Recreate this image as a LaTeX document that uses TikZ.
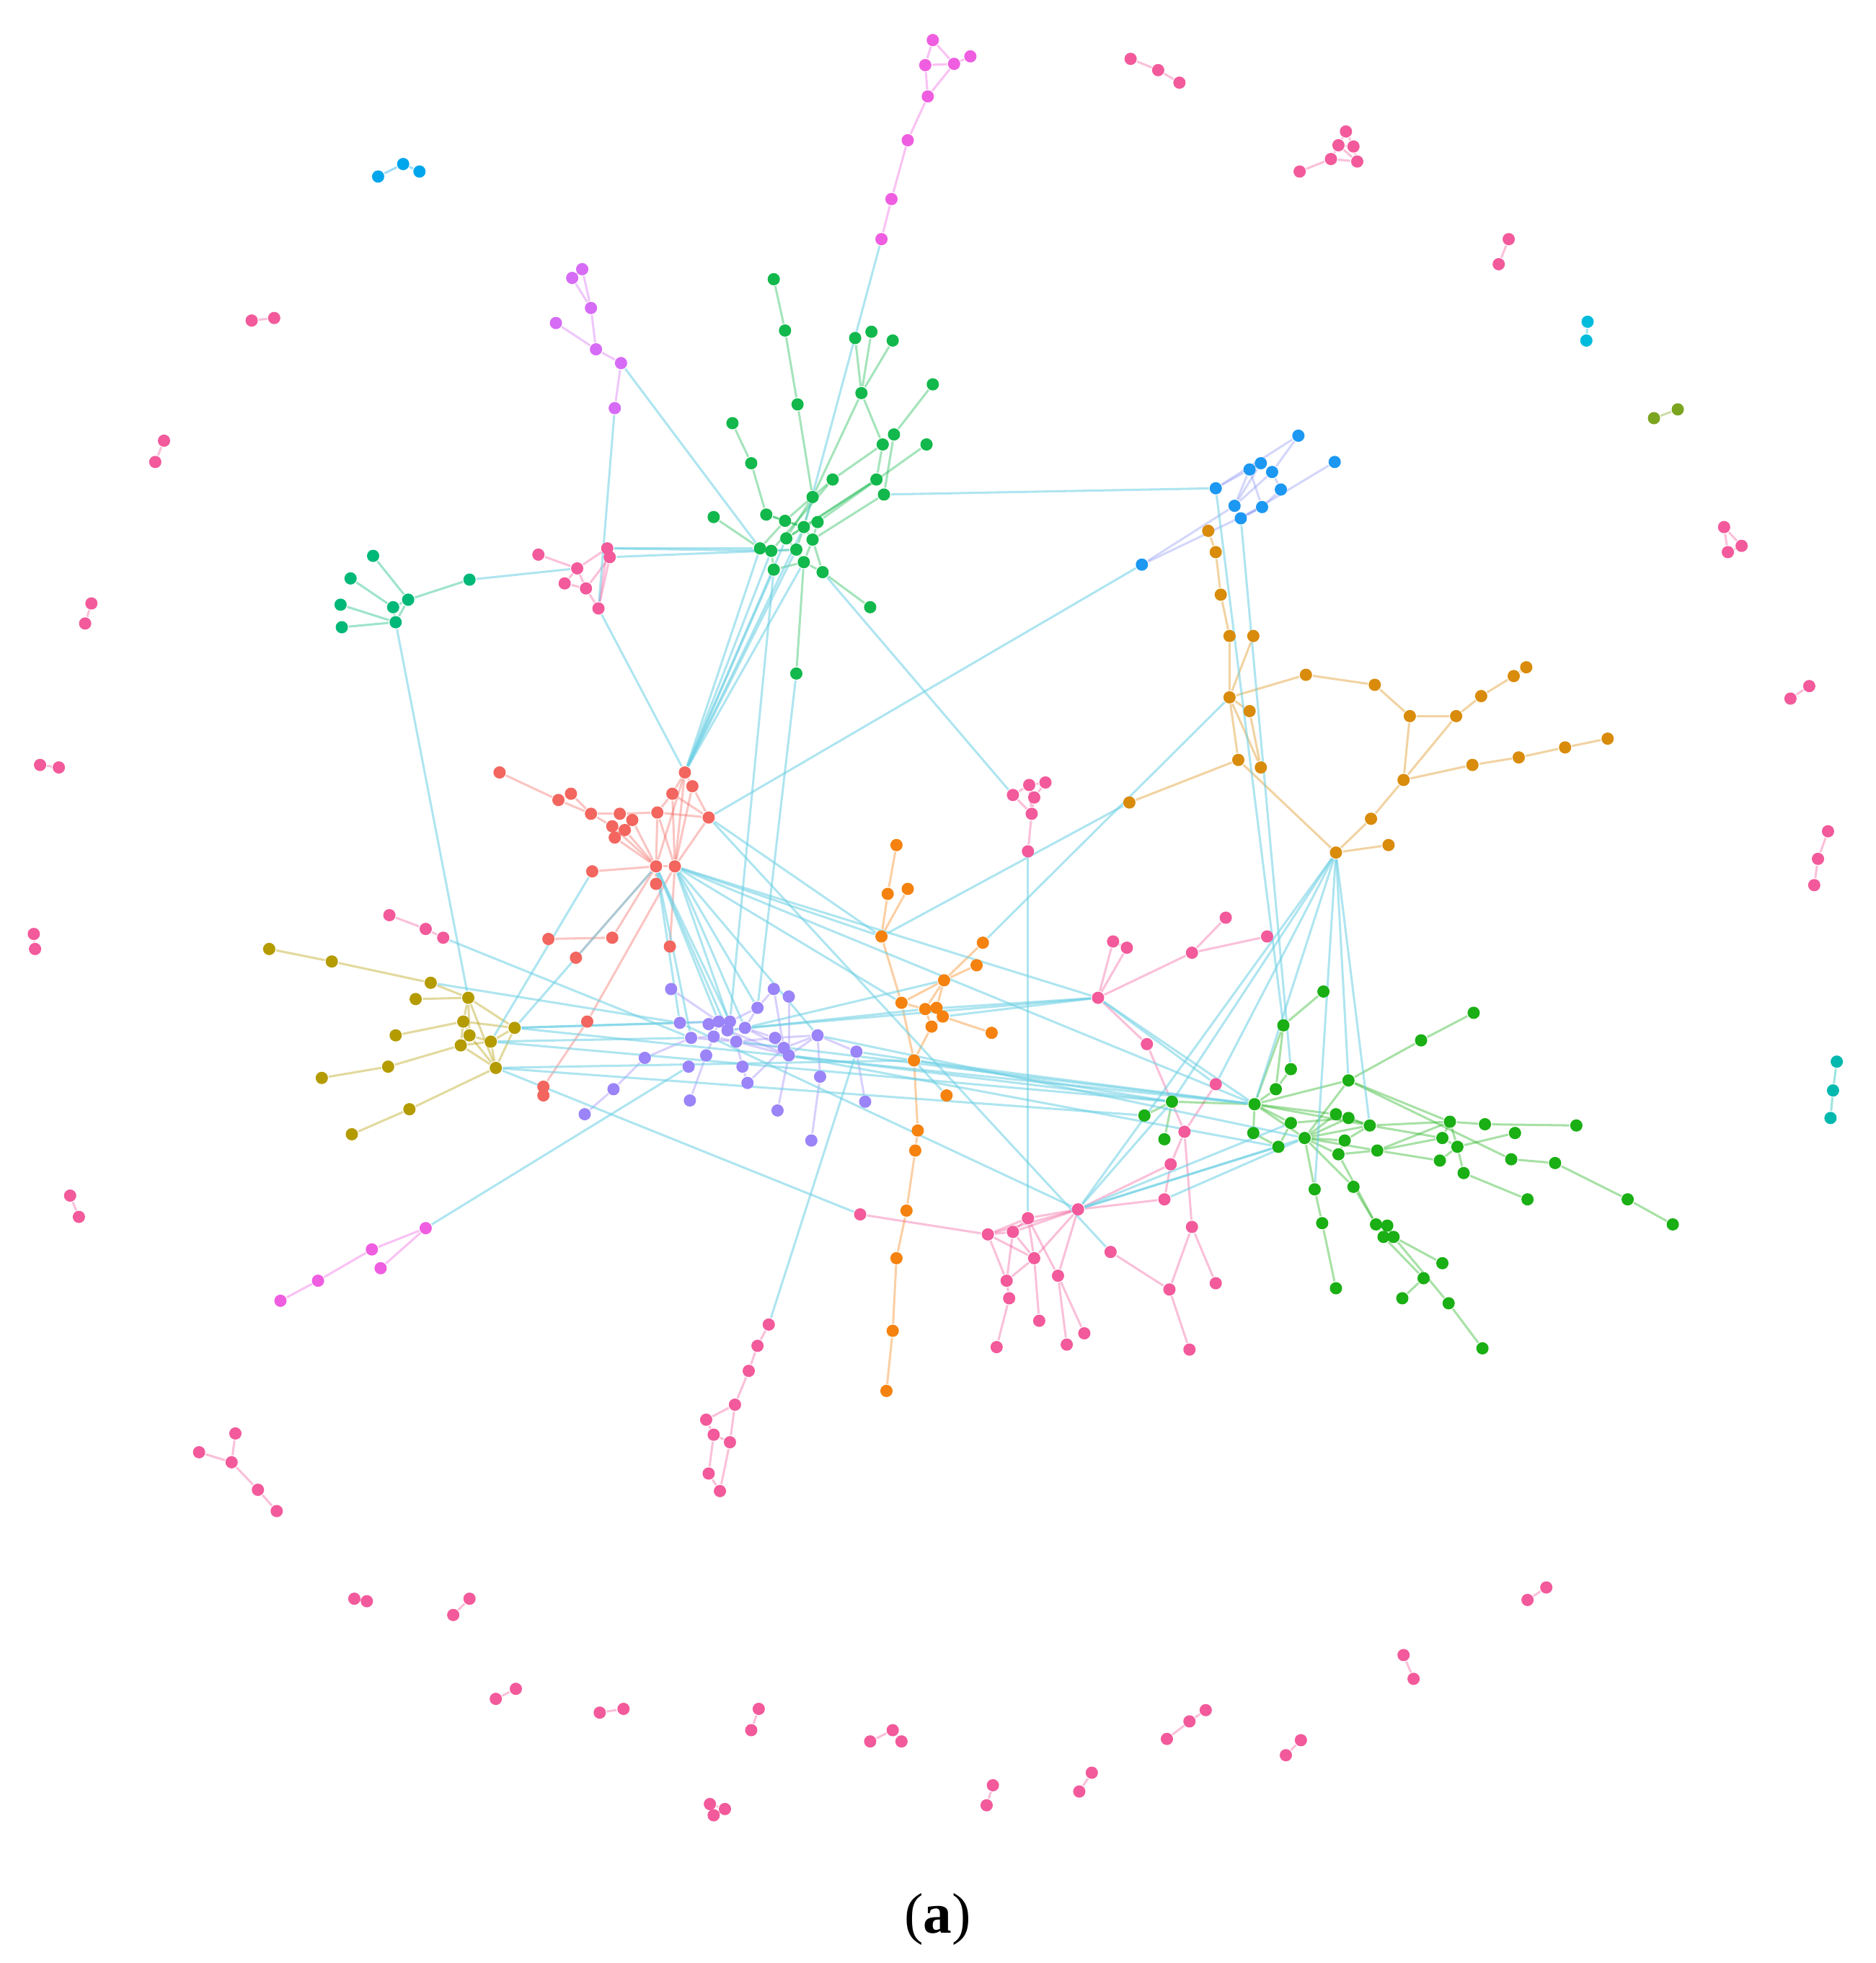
\documentclass[tikz,border=0pt]{standalone}
\usepackage{fontspec}
\setmainfont{Liberation Serif}
\usetikzlibrary{backgrounds}
\definecolor{cpk}{HTML}{F25A9B}
\definecolor{cmg}{HTML}{EF5EE0}
\definecolor{cvi}{HTML}{D66BF5}
\definecolor{cg}{HTML}{12B84C}
\definecolor{cgb}{HTML}{1AAF14}
\definecolor{ctg}{HTML}{00B877}
\definecolor{cr}{HTML}{F2665F}
\definecolor{col}{HTML}{B39B00}
\definecolor{cpu}{HTML}{9A84F8}
\definecolor{cor}{HTML}{F5820F}
\definecolor{cau}{HTML}{D98B0B}
\definecolor{cbl}{HTML}{1C98F2}
\definecolor{cbe}{HTML}{8F96F2}
\definecolor{cblt}{HTML}{00A6EC}
\definecolor{ccy}{HTML}{00BCDC}
\definecolor{cte}{HTML}{00B8AE}
\definecolor{cyg}{HTML}{7BA51F}
\definecolor{cyl}{HTML}{6CCFE3}
\begin{document}
\begin{tikzpicture}[x=0.01cm,y=-0.01cm,
  dot/.style={circle,inner sep=0pt,minimum size=0.098cm,draw=none},
  le/.style={draw=#1,draw opacity=0.38,line width=0.5pt},
  ce/.style={draw=cyl,draw opacity=0.55,line width=0.5pt}]
\useasboundingbox (0,0) rectangle (1498,1568);

% ---------------- nodes ----------------
% isolated pink components
\foreach \n/\x/\y in {ia1/903/47,ia2/925/56,ia3/942/66,
 ib1/1038/137,ib2/1063/127,ib3/1069/116,ib4/1075/105,ib5/1081/117,ib6/1084/129,
 ic1/1205/191,ic2/1197/211,id1/1377/421,id2/1380/441,id3/1391/436,
 ie1/1445/548,ie2/1430/558,if1/1460/664,if2/1452/686,if3/1449/707,
 ih1/1235/1268,ih2/1220/1278,ii1/1121/1322,ii2/1129/1341,ij1/1039/1390,ij2/1027/1402,
 im1/963/1366,im2/950/1375,im3/932/1389,in1/872/1416,in2/862/1431,
 io1/793/1426,io2/788/1442,ip1/695/1391,ip2/713/1382,ip3/720/1391,
 iq1/606/1365,iq2/600/1382,ir1/567/1441,ir2/579/1445,ir3/570/1450,
 is1/479/1368,is2/498/1365,it1/396/1357,it2/412/1349,iu1/362/1290,iu2/375/1277,
 iv1/283/1277,iv2/293/1279,iw1/159/1160,iw2/188/1145,iw3/185/1168,iw4/206/1190,iw5/221/1207,
 ix1/56/955,ix2/63/972,iy1/27/746,iy2/28/758,iz1/32/611,iz2/47/613,
 ja1/73/482,ja2/68/498,jb1/131/352,jb2/124/369,jc1/201/256,jc2/219/254}
 \node[dot,fill=cpk] (\n) at (\x,\y) {};
\foreach \n/\x/\y/\k in {cy1/1268/257/ccy,cy2/1267/272/ccy,yg1/1321/334/cyg,yg2/1340/327/cyg,
 tq1/1467/848/cte,tq2/1464/871/cte,tq3/1462/893/cte,bt1/302/141/cblt,bt2/322/131/cblt,bt3/335/137/cblt}
 \node[dot,fill=\k] (\n) at (\x,\y) {};

% magenta chains
\foreach \n/\x/\y in {mt1/745/32,mt2/739/52,mt3/762/51,mt4/775/45,mt5/741/77,mt6/725/112,mt7/712/159,mt8/704/191,
 ml1/224/1039,ml2/254/1023,ml3/297/998,ml4/304/1013,ml5/340/981}
 \node[dot,fill=cmg] (\n) at (\x,\y) {};
% violet
\foreach \n/\x/\y in {vi1/457/222,vi2/465/215,vi3/472/246,vi4/444/258,vi5/476/279,vi6/496/290,vi7/491/326}
 \node[dot,fill=cvi] (\n) at (\x,\y) {};
% top green
\foreach \n/\x/\y in {g1/618/223,g2/627/264,g3/637/323,g4/683/270,g5/696/265,g6/713/272,g7/745/307,g8/688/314,
 g9/705/355,g10/714/347,g11/740/355,g12/700/383,g13/706/395,g14/665/383,g15/649/397,g16/585/338,g17/600/370,
 g18/570/413,g19/612/411,g20/627/416,g21/653/417,g22/642/421,g23/607/438,g24/616/440,g25/628/430,g26/649/431,
 g27/636/439,g28/618/455,g29/642/449,g30/657/457,g31/695/485,g32/636/538}
 \node[dot,fill=cg] (\n) at (\x,\y) {};
% teal green
\foreach \n/\x/\y in {tg1/298/444,tg2/280/462,tg3/272/483,tg4/273/501,tg5/314/485,tg6/326/479,tg7/316/497,tg8/375/463}
 \node[dot,fill=ctg] (\n) at (\x,\y) {};
% pink groups
\foreach \n/\x/\y in {pk1/430/443,pk2/461/454,pk3/451/466,pk4/468/470,pk5/485/438,pk5b/487/445,pk6/478/486,
 pl1/311/731,pl2/340/742,pl3/354/749,
 pq1/877/797,pq2/889/752,pq3/900/757,pq4/952/761,pq5/979/733,pq6/1012/748,pq7/916/834,pq9/971/866,
 pq10/946/904,pq11/935/930,pq12/930/958,
 pm1/809/635,pm2/822/627,pm3/835/625,pm4/826/637,pm5/824/650,pm6/821/680,
 k3/861/966,k4/821/973,k5/789/986,k6/809/984,k7/826/1005,k8/804/1023,k9/806/1037,k10/845/1019,
 k11/887/1000,k12/934/1030,k13/952/980,k14/971/1025,k15/830/1055,k16/866/1065,k17/852/1074,
 k18/796/1076,k19/950/1078,k20/687/970,
 pb1/614/1058,pb2/605/1075,pb3/598/1095,pb4/587/1122,pb5/564/1134,pb6/570/1146,pb7/583/1152,
 pb8/566/1177,pb9/575/1191}
 \node[dot,fill=cpk] (\n) at (\x,\y) {};
% blue
\foreach \n/\x/\y in {bl1/1037/348,bl2/1066/369,bl3/1007/370,bl4/998/375,bl5/1016/377,bl6/971/390,
 bl7/1023/391,bl8/986/404,bl9/1008/405,bl10/991/414,bl11/912/451}
 \node[dot,fill=cbl] (\n) at (\x,\y) {};
% gold
\foreach \n/\x/\y in {au1/965/424,au2/971/441,au3/975/475,au4/982/508,au5/1001/508,au6/982/557,au7/998/568,
 au8/989/607,au9/1007/613,au10/1043/539,au11/1098/547,au12/1126/572,au13/1163/572,au14/1183/556,
 au15/1209/540,au16/1219/533,au17/1121/623,au18/1176/611,au19/1213/605,au20/1250/597,au21/1284/590,
 au22/1095/654,au23/1067/681,au24/1109/675,au25/902/641}
 \node[dot,fill=cau] (\n) at (\x,\y) {};
% red
\foreach \n/\x/\y in {r1/399/617,r2/446/639,r3/456/634,r4/472/650,r5/495/650,r6/505/655,r7/489/660,r8/499/663,
 r9/491/669,r10/525/649,r11/537/634,r12/547/617,r13/553/628,r14/566/653,r15/524/692,r16/539/692,r17/524/706,
 r18/473/696,r19/438/750,r20/460/765,r21/489/749,r22/535/756,r23/469/816,r24/434/868,r25/434/875}
 \node[dot,fill=cr] (\n) at (\x,\y) {};
% olive
\foreach \n/\x/\y in {ol1/215/758,ol2/265/768,ol3/344/785,ol4/332/798,ol5/374/797,ol6/370/816,ol7/316/827,
 ol8/375/827,ol9/368/835,ol10/392/832,ol11/411/821,ol12/396/853,ol13/310/852,ol14/257/861,ol15/327/886,ol16/281/906}
 \node[dot,fill=col] (\n) at (\x,\y) {};
% purple
\foreach \n/\x/\y in {pu1/536/790,pu2/618/790,pu3/630/796,pu4/605/805,pu5/543/817,pu6/566/818,pu7/574/816,
 pu8/583/816,pu9/595/821,pu10/552/829,pu11/570/828,pu12/581/823,pu13/588/832,pu14/619/829,pu15/626/837,
 pu16/630/843,pu17/653/827,pu18/684/840,pu19/564/843,pu20/550/852,pu21/593/852,pu22/597/865,pu23/655/860,
 pu24/515/845,pu25/490/870,pu26/467/890,pu27/551/879,pu28/621/887,pu29/648/911,pu30/691/880}
 \node[dot,fill=cpu] (\n) at (\x,\y) {};
% orange
\foreach \n/\x/\y in {or1/716/675,or2/709/714,or3/725/710,or4/704/748,or5/785/753,or6/780/771,or7/754/783,
 or8/720/801,or9/739/806,or10/748/805,or11/753/812,or12/744/820,or13/792/825,or14/730/847,or15/756/875,
 or16/733/903,or17/731/919,or18/724/967,or19/716/1005,or20/713/1063,or21/708/1111}
 \node[dot,fill=cor] (\n) at (\x,\y) {};
% right green
\foreach \n/\x/\y in {e1/1057/792,e2/1025/819,e3/1135/831,e4/1177/809,e5/1031/854,e6/1077/863,e7/1019/870,
 e8/1002/882,e9/1001/905,e10/1021/916,e11/1031/897,e12/1042/909,e13/1067/890,e14/1077/893,e15/1094/899,
 e16/1074/911,e17/1069/922,e18/1100/919,e19/1158/896,e20/1152/909,e21/1164/916,e22/1150/927,e23/1169/937,
 e24/1186/898,e25/1210/905,e26/1259/899,e27/1207/926,e28/1242/929,e29/1220/958,e30/1300/958,e31/1336/978,
 e32/1050/950,e33/1081/948,e34/1056/977,e35/1067/1029,e36/1099/978,e37/1108/979,e38/1105/988,e39/1113/988,
 e40/1152/1009,e41/1137/1021,e42/1120/1037,e43/1157/1041,e44/1184/1077,e45/936/880,e46/914/891,e47/930/910}
 \node[dot,fill=cgb] (\n) at (\x,\y) {};

\node[font=\fontsize{13}{15}\selectfont] (lbl) at (749,1533) {(\textbf{a})};

% ---------------- edges ----------------
\begin{scope}[on background layer]
\foreach \a/\b in {ia1/ia2,ia2/ia3,ib1/ib2,ib2/ib3,ib2/ib6,ib3/ib4,ib4/ib5,ib3/ib5,ib5/ib6,ib3/ib6,ic1/ic2,
 id1/id2,id1/id3,id2/id3,ie1/ie2,if1/if2,if2/if3,ih1/ih2,ii1/ii2,ij1/ij2,im1/im2,im2/im3,in1/in2,io1/io2,
 ip1/ip2,ip2/ip3,iq1/iq2,ir1/ir2,ir1/ir3,ir2/ir3,is1/is2,it1/it2,iu1/iu2,iv1/iv2,iw1/iw3,iw2/iw3,iw3/iw4,
 iw4/iw5,ix1/ix2,iy1/iy2,iz1/iz2,ja1/ja2,jb1/jb2,jc1/jc2,
 pk1/pk2,pk2/pk3,pk2/pk4,pk3/pk4,pk4/pk6,pk2/pk5,pk4/pk5b,pk5/pk6,pk5b/pk6,pl1/pl2,pl2/pl3,
 pq1/pq2,pq2/pq3,pq1/pq3,pq1/pq4,pq4/pq5,pq4/pq6,pq1/pq7,pq7/pq10,pq9/pq10,pq10/pq11,pq11/pq12,pq10/k13,
 pm1/pm2,pm2/pm3,pm1/pm5,pm2/pm5,pm3/pm4,pm4/pm5,pm5/pm6,pm2/pm4,
 k5/k4,k5/k6,k6/k4,k4/k3,k6/k3,k5/k3,k5/k7,k6/k7,k4/k7,k4/k10,k3/k10,k5/k8,k6/k8,k7/k8,k8/k9,k9/k18,
 k7/k15,k10/k17,k10/k16,k11/k12,k12/k13,k12/k19,k13/k14,k3/pq11,k3/pq12,k20/k5,k3/k7,
 pb1/pb2,pb2/pb3,pb3/pb4,pb4/pb5,pb4/pb7,pb5/pb6,pb6/pb7,pb7/pb9,pb6/pb8,pb8/pb9}
 \draw[le=cpk] (\a)--(\b);
\draw[le=ccy] (cy1)--(cy2);
\draw[le=cyg] (yg1)--(yg2);
\draw[le=cte] (tq1)--(tq2) (tq2)--(tq3);
\draw[le=cblt] (bt1)--(bt2) (bt2)--(bt3);
\foreach \a/\b in {mt1/mt2,mt1/mt3,mt2/mt3,mt3/mt4,mt2/mt5,mt3/mt5,mt5/mt6,mt6/mt7,mt7/mt8,
 ml1/ml2,ml2/ml3,ml3/ml5,ml4/ml5}
 \draw[le=cmg] (\a)--(\b);
\foreach \a/\b in {vi1/vi2,vi1/vi3,vi2/vi3,vi3/vi5,vi4/vi5,vi5/vi6,vi6/vi7}
 \draw[le=cvi] (\a)--(\b);
\foreach \a/\b in {g1/g2,g2/g3,g3/g15,g4/g8,g5/g8,g6/g8,g8/g9,g8/g15,g7/g10,g10/g13,g9/g12,g9/g14,g11/g21,
 g12/g25,g13/g26,g14/g24,g15/g25,g15/g22,g16/g17,g17/g19,g18/g23,g19/g22,g20/g22,g20/g23,g19/g20,g21/g26,
 g21/g22,g22/g26,g22/g27,g22/g25,g23/g24,g24/g27,g25/g27,g26/g29,g27/g29,g28/g24,g28/g29,g29/g30,g30/g31,
 g30/g26,g32/g29,g12/g22,g14/g20}
 \draw[le=cg] (\a)--(\b);
\foreach \a/\b in {tg1/tg6,tg2/tg5,tg3/tg7,tg4/tg7,tg5/tg7,tg6/tg7,tg5/tg6,tg6/tg8}
 \draw[le=ctg] (\a)--(\b);
\foreach \a/\b in {bl6/bl4,bl4/bl3,bl3/bl5,bl6/bl1,bl1/bl5,bl5/bl7,bl7/bl9,bl9/bl10,bl10/bl8,bl8/bl4,bl8/bl3,
 bl4/bl9,bl2/bl10,bl11/bl8,bl11/bl9,bl8/bl5}
 \draw[le=cbe] (\a)--(\b);
\foreach \a/\b in {au1/au2,au2/au3,au3/au4,au4/au6,au5/au6,au6/au7,au6/au8,au6/au9,au7/au9,au8/au23,au8/au25,
 au6/au10,au10/au11,au11/au12,au12/au13,au13/au14,au14/au15,au15/au16,au12/au17,au13/au17,au17/au18,
 au18/au19,au19/au20,au20/au21,au17/au22,au22/au23,au23/au24}
 \draw[le=cau] (\a)--(\b);
\foreach \a/\b in {r1/r2,r2/r3,r2/r4,r3/r4,r4/r5,r4/r7,r5/r6,r5/r10,r7/r9,r8/r9,r6/r8,r7/r8,r10/r11,r11/r12,
 r12/r13,r13/r14,r11/r14,r10/r14,r12/r15,r12/r16,r13/r16,r14/r16,r15/r16,r10/r15,r9/r15,r8/r15,r7/r15,r6/r15,
 r18/r15,r15/r17,r10/r16,r11/r16,r19/r21,r21/r15,r20/r15,r22/r16,r16/r23,r23/r24,r24/r25}
 \draw[le=cr] (\a)--(\b);
\foreach \a/\b in {ol1/ol2,ol2/ol3,ol3/ol5,ol4/ol5,ol5/ol6,ol5/ol8,ol5/ol11,ol6/ol7,ol6/ol8,ol6/ol9,ol8/ol9,
 ol8/ol10,ol9/ol10,ol6/ol11,ol10/ol11,ol8/ol12,ol9/ol12,ol10/ol12,ol9/ol13,ol13/ol14,ol12/ol15,ol15/ol16,
 ol5/ol12,ol11/ol12}
 \draw[le=col] (\a)--(\b);
\foreach \a/\b in {pu1/pu7,pu2/pu4,pu3/pu16,pu4/pu8,pu4/pu9,pu5/pu7,pu6/pu8,pu7/pu11,pu8/pu12,pu9/pu12,
 pu10/pu11,pu11/pu13,pu12/pu13,pu13/pu14,pu13/pu15,pu14/pu16,pu15/pu17,pu16/pu17,pu17/pu18,pu17/pu23,
 pu18/pu30,pu13/pu21,pu21/pu22,pu11/pu19,pu19/pu27,pu24/pu25,pu25/pu26,pu10/pu24,pu16/pu28,pu15/pu22,
 pu23/pu29,pu9/pu15,pu12/pu16,pu2/pu15,pu6/pu11,pu7/pu12,pu14/pu17,pu9/pu14,pu10/pu13,pu13/pu16}
 \draw[le=cpu] (\a)--(\b);
\foreach \a/\b in {or1/or2,or2/or4,or3/or4,or4/or8,or8/or7,or7/or5,or7/or6,or7/or10,or8/or9,or9/or10,
 or10/or11,or9/or12,or11/or12,or8/or14,or12/or14,or11/or13,or14/or16,or16/or17,or17/or18,or18/or19,
 or19/or20,or20/or21,or7/or9}
 \draw[le=cor] (\a)--(\b);
\foreach \a/\b in {e1/e2,e2/e7,e2/e8,e3/e4,e3/e6,e5/e7,e6/e8,e6/e12,e6/e19,e7/e8,e8/e12,e8/e9,e8/e11,
 e8/e45,e45/e46,e45/e47,e12/e13,e12/e14,e12/e15,e12/e16,e12/e17,e12/e18,e13/e15,e14/e15,e15/e16,e16/e17,
 e17/e18,e15/e19,e18/e20,e18/e22,e19/e21,e20/e21,e21/e22,e19/e20,e21/e23,e23/e29,e19/e24,e24/e26,e21/e25,
 e6/e27,e27/e28,e28/e30,e30/e31,e12/e32,e12/e33,e32/e34,e33/e36,e17/e36,e36/e37,e36/e38,e37/e39,e38/e39,
 e39/e40,e38/e41,e41/e42,e39/e43,e43/e44,e34/e35,e11/e10,e11/e14,e8/e15,e9/e10,e18/e19,e8/e13,e15/e20}
 \draw[le=cgb] (\a)--(\b);
% inter-cluster links
\foreach \a/\b in {mt8/g22,vi6/g23,vi7/pk6,pk5/g23,pk5/g24,pk5b/g27,tg8/pk2,tg7/ol5,
 g23/r12,g24/r12,g27/r12,g28/r12,g29/r12,g25/r12,g22/r12,pk6/r12,
 g28/pu8,g32/pu4,g30/pm1,g13/bl6,bl6/e2,bl10/e5,bl11/r14,
 au23/e8,au23/e6,au23/e32,au23/e45,au23/k3,au23/pq9,au23/e15,au6/or5,au25/or4,
 r15/pu5,r15/pu7,r15/pu8,r15/pu10,r15/pu12,r16/pu9,r16/pu13,r16/pu17,r16/pu4,
 r15/ol11,r18/ol10,r16/or4,r16/or8,r16/pq1,r16/e8,r14/k11,r14/or4,
 ol11/pu5,ol10/pu10,ol11/pu7,ol12/k20,ol12/or14,ol11/e8,ol10/e45,ol3/pu5,
 pu12/or9,pu18/or14,pu9/pq1,pu9/or7,or11/pq1,or9/pq1,or14/e8,or14/e45,
 pu13/e8,pu17/e12,pu16/e10,pl3/pu10,ml5/pu20,pb1/pu18,
 pm6/k4,pq1/pq9,pq1/e8,k3/e12,k3/e10,k3/e11,k3/e45,pq12/e12,k3/pu5,or15/or14,pu16/e45,ol12/e46}
 \draw[ce] (\a)--(\b);
\end{scope}
\end{tikzpicture}
\end{document}
